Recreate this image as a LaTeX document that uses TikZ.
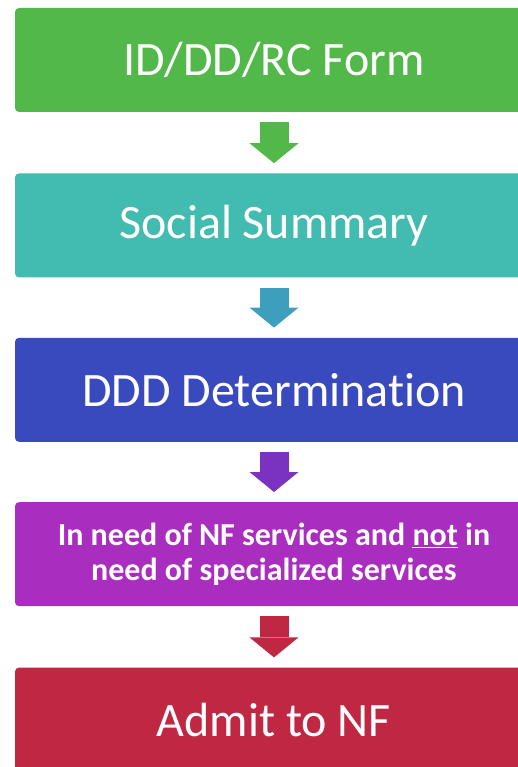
\documentclass[tikz,border=0pt]{standalone}
\usepackage{fontspec}
\setmainfont{Carlito}[Ligatures={NoCommon}]
\usetikzlibrary{positioning,arrows.meta}

\definecolor{formgreen}{HTML}{53B84A}
\definecolor{summteal}{HTML}{42BBB0}
\definecolor{summarrow}{HTML}{3E9EBE}
\definecolor{dddblue}{HTML}{384ABE}
\definecolor{dddarrow}{HTML}{7A32C0}
\definecolor{needpurple}{HTML}{A92DBE}
\definecolor{admitred}{HTML}{C02742}

\begin{document}
\begin{tikzpicture}[x=1pt, y=1pt,
    every node/.append style={align=center, text=white},
    stepbox/.style={fill=#1, rounded corners=4pt, minimum width=518pt,
      minimum height=104pt, inner sep=0pt, font=\fontsize{48}{52}\selectfont},
    flow/.style={#1, line width=29pt, shorten <=10pt, shorten >=10pt,
      -{Triangle[width=49pt, length=20pt, line width=0pt]}}]
    \clip (0,0) rectangle (518,-767);
    \node[stepbox=formgreen] (form) at (274,-60)     {ID/DD/RC Form};
    \node[stepbox=summteal, below=61pt of form] (summary)  {Social Summary};
    \node[stepbox=dddblue, below=60pt of summary] (ddd)    {DDD Determination};
    \node[stepbox=needpurple, below=60pt of ddd, font=\bfseries\fontsize{32}{35}\selectfont] (need)
                         {In need of NF services and \underline{not} in \\ need of specialized services};
    \node[stepbox=admitred, below=61pt of need] (admit)    {Admit to NF};
    % arrows between the steps
    \draw[flow=formgreen] (form) -- (summary);
    \draw[flow=summarrow] (summary) -- (ddd);
    \draw[flow=dddarrow]  (ddd) -- (need);
    \draw[flow=admitred]  (need) -- (admit);
  \end{tikzpicture}
\end{document}
